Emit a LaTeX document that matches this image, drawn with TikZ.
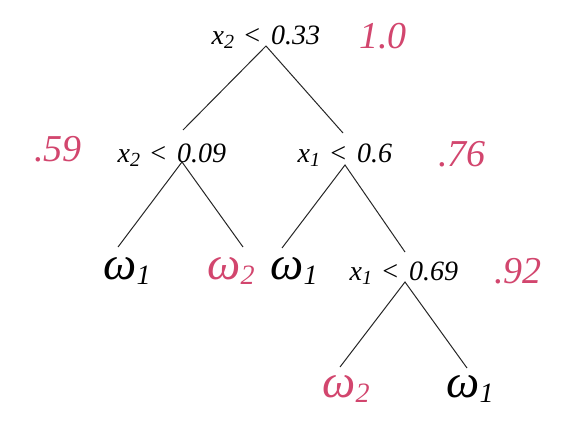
\documentclass[tikz,border=0pt]{standalone}
\usepackage{fontspec}
\setmainfont{Liberation Serif}
\begin{document}
\begin{tikzpicture}[x=1pt,y=-1pt,
  split/.style={inner sep=0pt,font=\fontsize{28}{30}\selectfont\itshape},
  prob/.style={inner sep=0pt,text=pinkred,font=\fontsize{38}{40}\selectfont\itshape},
  leaf/.style={inner sep=0pt,font=\fontsize{47}{50}\selectfont\itshape},
  edge/.style={line width=1pt,black!85}]
\definecolor{pinkred}{RGB}{210,70,110}
\useasboundingbox (0,0) rectangle (562,441);
\newcommand{\cond}[3]{#1\raisebox{-0.3ex}{\fontsize{20}{20}\selectfont #2}\hspace{0.3em}<\hspace{0.35em}#3}
\newcommand{\om}[1]{ω\raisebox{-0.25ex}{\fontsize{28}{28}\selectfont #1}}
% split nodes
\node[split] (s1) at (266,37) {\cond{x}{2}{0.33}};
\node[split] (s2) at (172,155) {\cond{x}{2}{0.09}};
\node[split] (s3) at (345,155) {\cond{x}{1}{0.6}};
\node[split] (s4) at (404,273) {\cond{x}{1}{0.69}};
% probabilities
\node[prob] (p1) at (383,36) {1.0};
\node[prob] (p2) at (58,149) {.59};
\node[prob] (p3) at (462,154) {.76};
\node[prob] (p4) at (518,271) {.92};
% leaves
\node[leaf] (l1) at (127,271) {\om{1}};
\node[leaf,text=pinkred] (l2) at (231,271) {\om{2}};
\node[leaf] (l3) at (294,271) {\om{1}};
\node[leaf,text=pinkred] (l4) at (346,389) {\om{2}};
\node[leaf] (l5) at (470,389) {\om{1}};
% connector ends
\coordinate (a1) at (266,46);
\coordinate (a2) at (182,162);
\coordinate (a3) at (345,165);
\coordinate (a4) at (405,282);
\coordinate (t2) at (183,130);
\coordinate (t3) at (343,133);
\coordinate (tl1) at (118,247);
\coordinate (tl2) at (243,247);
\coordinate (tl3) at (282,248);
\coordinate (t4) at (405,252);
\coordinate (tl4) at (340,367);
\coordinate (tl5) at (467,368);
\draw[edge] (t2) -- (a1) -- (t3);
\draw[edge] (tl1) -- (a2) -- (tl2);
\draw[edge] (tl3) -- (a3) -- (t4);
\draw[edge] (tl4) -- (a4) -- (tl5);
\end{tikzpicture}
\end{document}
